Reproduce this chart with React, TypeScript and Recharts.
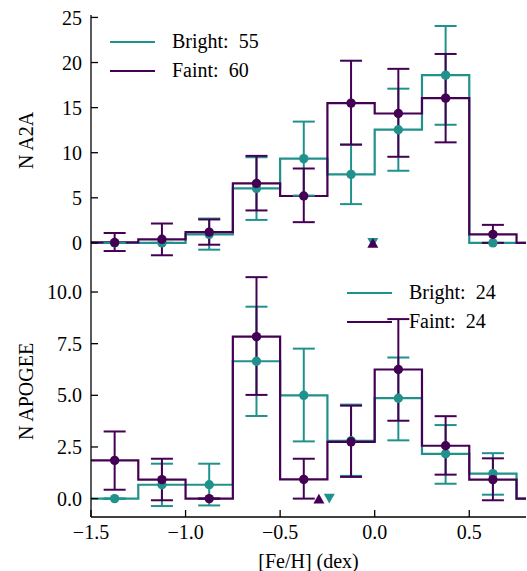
import React from 'react';
import { ComposedChart, Line, Scatter, ErrorBar, XAxis, YAxis, Legend } from 'recharts';

const TEAL = '#21918c';
const PURPLE = '#440154';
const FONT = "'Liberation Serif', 'DejaVu Serif', serif";

// histogram bins in [Fe/H]
const binEdges = [-1.5, -1.25, -1.0, -0.75, -0.5, -0.25, 0.0, 0.25, 0.5, 0.75, 1.0];
const binCenters = [-1.375, -1.125, -0.875, -0.625, -0.375, -0.125, 0.125, 0.375, 0.625, 0.875];
const xTicks = [-1.5, -1.0, -0.5, 0.0, 0.5];

// A2A panel
const a2aBright = [0, 0, 0.95, 6.05, 9.35, 7.6, 12.55, 18.6, 0, 0];
const a2aBrightErr = [[0, 0], [0, 0], [1.7, 1.75], [3.5, 3.45], [4.1, 4.1], [3.3, 3.3], [4.55, 4.55], [5.5, 5.45], [0, 0], [0, 0]];
const a2aFaint = [0.05, 0.4, 1.2, 6.6, 5.2, 15.5, 14.35, 16.05, 0.95, 0];
const a2aFaintErr = [[0.95, 1.05], [1.77, 1.75], [1.4, 1.4], [3.0, 3.05], [2.9, 3.05], [4.6, 4.7], [4.8, 4.95], [4.9, 4.9], [0.95, 1.05], [0, 0]];
const a2aMedianBright = [-0.01];
const a2aMedianFaint = [-0.01];
const a2aCounts = [55, 60];
const a2aTicks = [0, 5, 10, 15, 20, 25];

// APOGEE panel
const apoBright = [0, 0.67, 0.67, 6.65, 5.0, 2.8, 4.86, 2.17, 1.21, 0];
const apoBrightErr = [[0, 0], [1.03, 1.02], [1.0, 1.02], [2.65, 2.64], [2.23, 2.26], [1.7, 1.75], [2.04, 1.97], [1.45, 1.39], [1.02, 0.99], [0, 0]];
const apoFaint = [1.85, 0.92, 0, 7.84, 0.93, 2.75, 6.25, 2.56, 0.92, 0];
const apoFaintErr = [[1.42, 1.4], [1.0, 1.01], [0, 0], [2.82, 2.88], [0.93, 1.0], [1.7, 1.75], [2.48, 2.44], [1.4, 1.43], [1.0, 1.03], [0, 0]];
const apoMedianBright = [-0.24];
const apoMedianFaint = [-0.295];
const apoCounts = [24, 24];
const apoTicks = [0, 2.5, 5.0, 7.5, 10.0];

const stepData = (vals: number[]) =>
  binEdges.map((x, i) => ({ x, y: vals[Math.min(i, vals.length - 1)] }));

const pointData = (vals: number[], errs: number[][]) =>
  binCenters
    .map((x, i) => ({ x, y: vals[i], err: errs[i] }))
    .filter((d) => d.x < 0.8);

const fmtX = (v: number) => (v < 0 ? '\u2212' : '') + Math.abs(v).toFixed(1);

const Dot = (color: string) => (props: any) => (
  <circle cx={props.cx} cy={props.cy} r={4.7} fill={color} />
);

const TriUp = (color: string) => (props: any) => {
  const { cx, cy } = props;
  return <polygon points={`${cx - 5.5},${cy + 4.8} ${cx + 5.5},${cy + 4.8} ${cx},${cy - 4.8}`} fill={color} />;
};

const TriDown = (color: string) => (props: any) => {
  const { cx, cy } = props;
  return <polygon points={`${cx - 5.5},${cy - 4.8} ${cx + 5.5},${cy - 4.8} ${cx},${cy + 4.8}`} fill={color} />;
};

const makeLegend = (counts: number[]) => () => (
  <div style={{ fontFamily: FONT, fontSize: 20, color: '#000' }}>
    {[['Bright', TEAL], ['Faint', PURPLE]].map(([name, color], i) => (
      <div key={name} style={{ display: 'flex', alignItems: 'center', height: 29 }}>
        <div style={{ width: 45, height: 2, background: color, marginRight: 17 }} />
        <span>{`${name}:\u00a0\u00a0${counts[i]}`}</span>
      </div>
    ))}
  </div>
);

const tickStyle = { fontSize: 20, fill: '#000', fontFamily: FONT };

interface PanelProps {
  bright: number[];
  brightErr: number[][];
  faint: number[];
  faintErr: number[][];
  medBright: number[];
  medFaint: number[];
  counts: number[];
  yDomain: number[];
  yTicks: number[];
  yFmt: (v: number) => string;
  yLabel: string;
  bottom: boolean;
  legendPos: { left: number; top: number };
}

const Panel = (p: PanelProps) => {
  const h = p.bottom ? 305 : 266;
  return (
    <ComposedChart
      width={527}
      height={h}
      margin={{ top: p.bottom ? 0 : 15, right: 1, left: 0, bottom: 0 }}
      style={{ fontFamily: FONT }}
    >
      <XAxis
        dataKey="x"
        type="number"
        domain={[-1.5, 0.8]}
        allowDataOverflow
        ticks={xTicks}
        tickFormatter={fmtX}
        tick={p.bottom ? tickStyle : false}
        tickSize={-7}
        tickMargin={15}
        height={p.bottom ? 54 : 0}
        stroke="#000"
        strokeWidth={1.3}
        label={p.bottom ? { value: '[Fe/H] (dex)', position: 'center', dy: 17, style: tickStyle } : undefined}
      />
      <XAxis
        xAxisId="t"
        dataKey="x"
        type="number"
        orientation="top"
        domain={[-1.5, 0.8]}
        allowDataOverflow
        ticks={xTicks}
        tick={false}
        tickSize={-7}
        height={0}
        stroke="#000"
        strokeWidth={1.3}
      />
      <YAxis
        dataKey="y"
        type="number"
        domain={p.yDomain}
        allowDataOverflow
        ticks={p.yTicks}
        tickFormatter={p.yFmt}
        tick={tickStyle}
        tickSize={-7}
        tickMargin={16}
        width={91}
        stroke="#000"
        strokeWidth={1.3}
        label={{ value: p.yLabel, angle: -90, position: 'center', dx: -20, style: tickStyle }}
      />
      <YAxis
        yAxisId="r"
        orientation="right"
        type="number"
        domain={p.yDomain}
        allowDataOverflow
        ticks={p.yTicks}
        tick={false}
        tickSize={-7}
        width={0}
        stroke="#000"
        strokeWidth={1.3}
      />
      <Line data={stepData(p.bright)} dataKey="y" type="stepAfter" stroke={TEAL} strokeWidth={2.2} dot={false} isAnimationActive={false} />
      <Line data={stepData(p.faint)} dataKey="y" type="stepAfter" stroke={PURPLE} strokeWidth={2.2} dot={false} isAnimationActive={false} />
      <Scatter data={pointData(p.bright, p.brightErr)} dataKey="y" shape={Dot(TEAL)} isAnimationActive={false}>
        <ErrorBar dataKey="err" direction="y" width={11} stroke={TEAL} strokeWidth={2} isAnimationActive={false} />
      </Scatter>
      <Scatter data={pointData(p.faint, p.faintErr)} dataKey="y" shape={Dot(PURPLE)} isAnimationActive={false}>
        <ErrorBar dataKey="err" direction="y" width={11} stroke={PURPLE} strokeWidth={2} isAnimationActive={false} />
      </Scatter>
      <Scatter data={p.medBright.map((x) => ({ x, y: 0 }))} dataKey="y" shape={TriDown(TEAL)} isAnimationActive={false} />
      <Scatter data={p.medFaint.map((x) => ({ x, y: 0 }))} dataKey="y" shape={TriUp(PURPLE)} isAnimationActive={false} />
      <Legend
        content={makeLegend(p.counts)}
        layout="horizontal"
        verticalAlign="middle"
        align="center"
        wrapperStyle={{ left: p.legendPos.left, top: p.legendPos.top, width: 220, height: 60 }}
      />
    </ComposedChart>
  );
};

export default function App() {
  return (
    <div style={{ position: 'absolute', left: 0, top: 0, width: 527, height: 571, background: '#fff', overflow: 'hidden' }}>
      <div style={{ position: 'absolute', left: 0, top: 0 }}>
        <Panel
          bright={a2aBright}
          brightErr={a2aBrightErr}
          faint={a2aFaint}
          faintErr={a2aFaintErr}
          medBright={a2aMedianBright}
          medFaint={a2aMedianFaint}
          counts={a2aCounts}
          yDomain={[-2.56, 25.27]}
          yTicks={a2aTicks}
          yFmt={(v) => String(v)}
          yLabel="N A2A"
          bottom={false}
          legendPos={{ left: 110, top: 27 }}
        />
      </div>
      <div style={{ position: 'absolute', left: 0, top: 266 }}>
        <Panel
          bright={apoBright}
          brightErr={apoBrightErr}
          faint={apoFaint}
          faintErr={apoFaintErr}
          medBright={apoMedianBright}
          medFaint={apoMedianFaint}
          counts={apoCounts}
          yDomain={[-0.89, 11.26]}
          yTicks={apoTicks}
          yFmt={(v) => v.toFixed(1)}
          yLabel="N APOGEE"
          bottom={true}
          legendPos={{ left: 347, top: 12 }}
        />
      </div>
    </div>
  );
}
